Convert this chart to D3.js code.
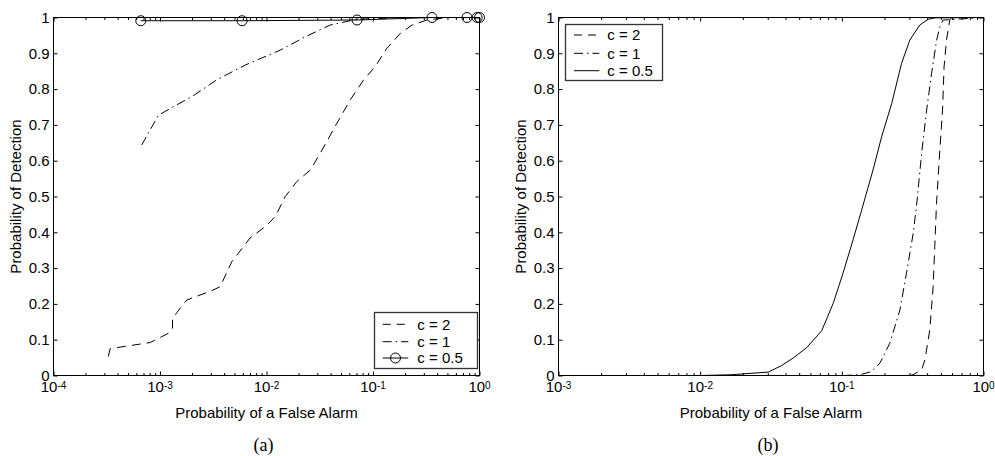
<!DOCTYPE html>
<html>
<head>
<meta charset="utf-8">
<script src="https://cdn.jsdelivr.net/npm/d3@7"></script>
<style>
  html, body { margin: 0; padding: 0; background: #fff; }
  svg { display: block; font-family: "Liberation Sans", Arial, Helvetica, sans-serif; }
</style>
</head>
<body>
<svg id="chart" width="995" height="456"></svg>
<script>
// ---- tick values and labels ----
const yTicks = [0, 0.1, 0.2, 0.3, 0.4, 0.5, 0.6, 0.7, 0.8, 0.9, 1];
const yTickLabels = ["0", "0.1", "0.2", "0.3", "0.4", "0.5", "0.6", "0.7", "0.8", "0.9", "1"];
const xTicksA = [1e-4, 1e-3, 1e-2, 1e-1, 1];
const xExpA = ["-4", "-3", "-2", "-1", "0"];
const xTicksB = [1e-3, 1e-2, 1e-1, 1];
const xExpB = ["-3", "-2", "-1", "0"];
const seriesNames = ["c = 2", "c = 1", "c = 0.5"];

// ---- panel (a): ROC curves ----
const faA_c2 = [3.27e-4, 3.4e-4, 8.07e-4, 1.2e-3, 1.31e-3, 1.31e-3, 1.44e-3, 1.79e-3, 3.07e-3, 3.67e-3,
                4.73e-3, 7.0e-3, 9.73e-3, 0.0121, 0.015, 0.0193, 0.0258, 0.032, 0.0459, 0.0612,
                0.0817, 0.105, 0.135, 0.181, 0.233, 0.322, 0.5, 1];
const pdA_c2 = [0.053, 0.075, 0.092, 0.118, 0.132, 0.157, 0.176, 0.211, 0.237, 0.248,
                0.318, 0.384, 0.416, 0.444, 0.5, 0.542, 0.574, 0.621, 0.705, 0.77,
                0.826, 0.863, 0.914, 0.956, 0.979, 0.993, 1, 1];
const faA_c1 = [6.74e-4, 9.66e-4, 1.34e-3, 1.99e-3, 3.42e-3, 6.3e-3, 0.0135, 0.0231, 0.0397, 0.0708, 0.2, 1];
const pdA_c1 = [0.644, 0.727, 0.751, 0.779, 0.826, 0.867, 0.909, 0.946, 0.979, 0.995, 1, 1];
const faA_c05 = [6.6e-4, 5.9e-3, 0.0708, 0.358, 0.763, 0.95, 1];
const pdA_c05 = [0.991, 0.991, 0.993, 1, 1, 1, 1];

// ---- panel (b): ROC curves ----
const faB_c2 = [0.3, 0.318, 0.366, 0.386, 0.418, 0.441, 0.453, 0.466, 0.492, 0.514, 0.527, 0.548, 0.578, 0.597, 1];
const pdB_c2 = [0, 0.002, 0.016, 0.044, 0.128, 0.248, 0.36, 0.481, 0.63, 0.742, 0.863, 0.937, 0.993, 1, 1];
const faB_c1 = [0.102, 0.134, 0.162, 0.186, 0.218, 0.257, 0.286, 0.319, 0.337, 0.366, 0.397, 0.43, 0.467, 0.492, 0.519, 1];
const pdB_c1 = [0, 0.002, 0.011, 0.035, 0.09, 0.183, 0.286, 0.397, 0.476, 0.621, 0.742, 0.844, 0.937, 0.974, 0.993, 1];
const faB_c05 = [0.01, 0.0163, 0.0303, 0.0376, 0.0454, 0.0565, 0.0721, 0.087, 0.102, 0.120,
                 0.138, 0.166, 0.191, 0.225, 0.264, 0.302, 0.355, 0.407, 0.454, 1];
const pdB_c05 = [0, 0.002, 0.0095, 0.028, 0.049, 0.078, 0.125, 0.202, 0.286, 0.379,
                 0.462, 0.574, 0.667, 0.76, 0.872, 0.937, 0.979, 0.995, 0.999, 1];

const zip = (a, b) => a.map((v, i) => [v, b[i]]);

// line styles per series: dashed, dash-dot, solid (with circles in panel a)
const styles = [
  { dash: "9,6", legendDash: "8,6" },
  { dash: "9,4,1.5,4", legendDash: "9,4,1.5,4" },
  { dash: null, legendDash: null }
];

const FONT = 15;
const plotTop = 17.5, plotBottom = 375.5;

const panels = [
  {
    left: 53.5, right: 479.5, domain: [1e-4, 1], ticks: xTicksA, exps: xExpA, caption: "(a)",
    data: [zip(faA_c2, pdA_c2), zip(faA_c1, pdA_c1), zip(faA_c05, pdA_c05)],
    markers: [false, false, true],
    ylabelX: 21,
    legend: { x: 374.5, y: 312.5, w: 103, h: 56, rows: [324.3, 341.7, 358], lx0: 382.7, lx1: 408.3, tx: 417.3 }
  },
  {
    left: 558.5, right: 983.5, domain: [1e-3, 1], ticks: xTicksB, exps: xExpB, caption: "(b)",
    data: [zip(faB_c2, pdB_c2), zip(faB_c1, pdB_c1), zip(faB_c05, pdB_c05)],
    markers: [false, false, false],
    ylabelX: 526,
    legend: { x: 565.5, y: 24.5, w: 97, h: 56, rows: [35, 53.3, 70.7], lx0: 574, lx1: 599.3, tx: 607.3 }
  }
];

const svg = d3.select("#chart");
svg.append("rect").attr("width", 995).attr("height", 456).attr("fill", "#fff");

const y = d3.scaleLinear().domain([0, 1]).range([plotBottom, plotTop]);

function minorTicks(majors) {
  const out = [];
  for (let i = 0; i < majors.length - 1; i++) {
    for (let k = 2; k <= 9; k++) out.push(k * majors[i]);
  }
  return out;
}

function styleAxis(sel) {
  sel.attr("font-family", null).attr("font-size", null);
  sel.select(".domain").remove();
  sel.selectAll("line").attr("stroke", "#000").attr("stroke-width", 1);
}

panels.forEach(p => {
  const x = d3.scaleLog().domain(p.domain).range([p.left, p.right]);
  const g = svg.append("g");
  const minors = minorTicks(p.ticks);

  // ticks on all four sides, pointing inward
  g.append("g").attr("transform", `translate(0,${plotBottom})`)
    .call(d3.axisBottom(x).tickValues(p.ticks).tickSize(-4).tickSizeOuter(0).tickFormat(""))
    .call(styleAxis);
  g.append("g").attr("transform", `translate(0,${plotBottom})`)
    .call(d3.axisBottom(x).tickValues(minors).tickSize(-2.5).tickSizeOuter(0).tickFormat(""))
    .call(styleAxis);
  g.append("g").attr("transform", `translate(0,${plotTop})`)
    .call(d3.axisTop(x).tickValues(p.ticks).tickSize(-4).tickSizeOuter(0).tickFormat(""))
    .call(styleAxis);
  g.append("g").attr("transform", `translate(0,${plotTop})`)
    .call(d3.axisTop(x).tickValues(minors).tickSize(-2.5).tickSizeOuter(0).tickFormat(""))
    .call(styleAxis);
  g.append("g").attr("transform", `translate(${p.left},0)`)
    .call(d3.axisLeft(y).tickValues(yTicks).tickSize(-4).tickSizeOuter(0).tickPadding(4)
      .tickFormat((d, i) => yTickLabels[i]))
    .call(styleAxis)
    .call(s => s.selectAll("text").attr("font-size", FONT).attr("fill", "#000"));
  g.append("g").attr("transform", `translate(${p.right},0)`)
    .call(d3.axisRight(y).tickValues(yTicks).tickSize(-4).tickSizeOuter(0).tickFormat(""))
    .call(styleAxis);

  // x tick labels: powers of ten
  p.ticks.forEach((t, i) => {
    const txt = g.append("text")
      .attr("x", x(t)).attr("y", 392)
      .attr("text-anchor", "middle")
      .attr("font-size", FONT).attr("fill", "#000");
    txt.append("tspan").text("10");
    txt.append("tspan").attr("font-size", 10).attr("dy", -3.5).text(p.exps[i]);
  });

  // frame
  g.append("rect")
    .attr("x", p.left).attr("y", plotTop)
    .attr("width", p.right - p.left).attr("height", plotBottom - plotTop)
    .attr("fill", "none").attr("stroke", "#000").attr("stroke-width", 1);

  // axis titles
  g.append("text")
    .attr("x", (p.left + p.right) / 2).attr("y", 418)
    .attr("text-anchor", "middle").attr("font-size", FONT).attr("fill", "#000")
    .text("Probability of a False Alarm");
  g.append("text")
    .attr("transform", `translate(${p.ylabelX},${(plotTop + plotBottom) / 2}) rotate(-90)`)
    .attr("text-anchor", "middle").attr("font-size", FONT).attr("fill", "#000")
    .text("Probability of Detection");

  // caption
  g.append("text")
    .attr("x", (p.left + p.right) / 2 - 3).attr("y", 451)
    .attr("text-anchor", "middle")
    .attr("font-family", "'Liberation Serif', 'Times New Roman', serif")
    .attr("font-size", 18).attr("fill", "#000")
    .text(p.caption);

  // curves
  const line = d3.line().x(d => x(d[0])).y(d => y(d[1]));
  p.data.forEach((pts, i) => {
    g.append("path")
      .datum(pts)
      .attr("d", line)
      .attr("fill", "none")
      .attr("stroke", "#000")
      .attr("stroke-width", 1)
      .attr("stroke-dasharray", styles[i].dash);
    if (p.markers[i]) {
      g.selectAll(null).data(pts).enter().append("circle")
        .attr("cx", d => x(d[0])).attr("cy", d => y(d[1]))
        .attr("r", 5).attr("fill", "none").attr("stroke", "#000").attr("stroke-width", 1);
    }
  });

  // legend
  const L = p.legend;
  const lg = g.append("g");
  lg.append("rect")
    .attr("x", L.x).attr("y", L.y).attr("width", L.w).attr("height", L.h)
    .attr("fill", "#fff").attr("stroke", "#333").attr("stroke-width", 1.3);
  seriesNames.forEach((name, i) => {
    const ry = L.rows[i];
    lg.append("line")
      .attr("x1", L.lx0).attr("x2", L.lx1).attr("y1", ry).attr("y2", ry)
      .attr("stroke", "#000").attr("stroke-width", 1)
      .attr("stroke-dasharray", styles[i].legendDash);
    if (p.markers[i]) {
      lg.append("circle")
        .attr("cx", (L.lx0 + L.lx1) / 2).attr("cy", ry).attr("r", 5)
        .attr("fill", "none").attr("stroke", "#000").attr("stroke-width", 1);
    }
    lg.append("text")
      .attr("x", L.tx).attr("y", ry).attr("dy", "0.36em")
      .attr("font-size", FONT).attr("fill", "#000")
      .text(name);
  });
});
</script>
</body>
</html>
